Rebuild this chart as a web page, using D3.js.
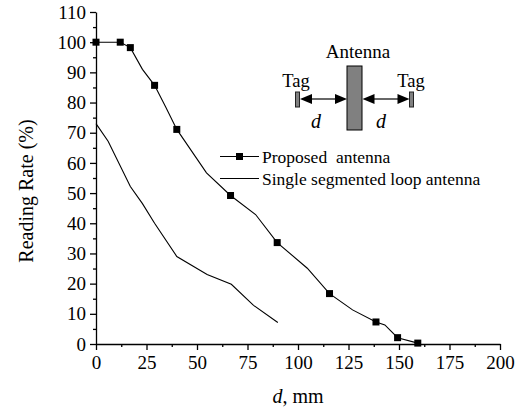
<!DOCTYPE html>
<html>
<head>
<meta charset="utf-8">
<script src="https://cdn.jsdelivr.net/npm/d3@7"></script>
<style>
  body { margin: 0; background: #fff; }
  svg { display: block; font-family: "Liberation Serif", "Times New Roman", serif; }
  .axis path, .axis line { stroke: #000; stroke-width: 1.3; }
</style>
</head>
<body>
<svg id="chart" width="528" height="412"></svg>
<script>
// proposed antenna: polyline (with bends) and the measured points (square markers)
var proposedLineX = [0, 12, 17, 23, 29, 34.5, 40, 54.7, 66.6, 79, 89.7, 104.6, 115.6, 127, 138.6, 143, 149.3, 159.3];
var proposedLineY = [100, 100, 98.2, 91, 85.7, 78.5, 71.1, 56.7, 49.2, 42.9, 33.6, 25.1, 16.7, 11.3, 7.3, 6.3, 2.1, 0.3];
var proposedMarkX = [0, 12, 17, 29, 40, 66.6, 89.7, 115.6, 138.6, 149.3, 159.3];
var proposedMarkY = [100, 100, 98.2, 85.7, 71.1, 49.2, 33.6, 16.7, 7.3, 2.1, 0.3];
// single segmented loop antenna
var loopX = [0, 6, 17, 23, 29, 40, 55, 67, 78, 90];
var loopY = [73, 67.2, 52.2, 46.5, 40, 29, 23, 19.8, 12.8, 7.1];

var xTicks = [0, 25, 50, 75, 100, 125, 150, 175, 200];
var xMinor = [12.5, 37.5, 62.5, 87.5, 112.5, 137.5, 162.5, 187.5];
var yTicks = [0, 10, 20, 30, 40, 50, 60, 70, 80, 90, 100, 110];
var yMinor = [5, 15, 25, 35, 45, 55, 65, 75, 85, 95, 105];
var seriesNames = ['Proposed  antenna', 'Single segmented loop antenna'];

var serif = 'Liberation Serif, serif';
var svg = d3.select('#chart');
var x = d3.scaleLinear().domain([0, 200]).range([96, 500]);
var y = d3.scaleLinear().domain([0, 110]).range([344, 12]);

function styleAxis(g) {
    g.attr('font-family', serif).attr('font-size', 19);
    g.selectAll('text').attr('fill', '#000');
}

// axes: minor ticks first, then major
svg.append('g').attr('class', 'axis').attr('transform', 'translate(0,344)')
    .call(d3.axisBottom(x).tickValues(xMinor).tickSize(3).tickSizeOuter(0).tickFormat(''))
    .select('.domain').remove();
svg.append('g').attr('class', 'axis').attr('transform', 'translate(96,0)')
    .call(d3.axisLeft(y).tickValues(yMinor).tickSize(3).tickSizeOuter(0).tickFormat(''))
    .select('.domain').remove();
svg.append('g').attr('class', 'axis').attr('transform', 'translate(0,344)')
    .call(d3.axisBottom(x).tickValues(xTicks).tickSize(6).tickSizeOuter(0).tickPadding(6))
    .call(styleAxis);
svg.append('g').attr('class', 'axis').attr('transform', 'translate(96,0)')
    .call(d3.axisLeft(y).tickValues(yTicks).tickSize(6).tickSizeOuter(0).tickPadding(4))
    .call(styleAxis);

// axis titles
svg.append('text')
    .attr('transform', 'translate(32.5,191) rotate(-90)')
    .attr('text-anchor', 'middle')
    .style('font-size', '20px')
    .text('Reading Rate (%)');
var xt = svg.append('text')
    .attr('x', 298).attr('y', 403)
    .attr('text-anchor', 'middle')
    .style('font-size', '20px');
xt.append('tspan').style('font-style', 'italic').text('d');
xt.append('tspan').text(', mm');

// lines
var line = d3.line()
    .x(function(d) { return x(d[0]); })
    .y(function(d) { return y(d[1]); });
var proposed = d3.zip(proposedLineX, proposedLineY);
var loop = d3.zip(loopX, loopY);
svg.append('path').datum(proposed).attr('d', line)
    .attr('fill', 'none').attr('stroke', '#000').attr('stroke-width', 1.1);
svg.append('path').datum(loop).attr('d', line)
    .attr('fill', 'none').attr('stroke', '#000').attr('stroke-width', 1.1);

var ms = 7;
svg.selectAll('rect.mark')
    .data(d3.zip(proposedMarkX, proposedMarkY))
    .enter().append('rect')
    .attr('class', 'mark')
    .attr('x', function(d) { return x(d[0]) - ms / 2; })
    .attr('y', function(d) { return y(d[1]) - ms / 2; })
    .attr('width', ms).attr('height', ms)
    .attr('fill', '#000');

// legend
var legend = svg.append('g').attr('transform', 'translate(220,156.5)');
seriesNames.forEach(function(name, i) {
    var g = legend.append('g').attr('transform', 'translate(0,' + (i * 22) + ')');
    g.append('line').attr('x1', 0).attr('x2', 39).attr('y1', 0).attr('y2', 0)
        .attr('stroke', '#000').attr('stroke-width', 1.1);
    if (i === 0) {
        g.append('rect').attr('x', 19.5 - ms / 2).attr('y', -ms / 2)
            .attr('width', ms).attr('height', ms).attr('fill', '#000');
    }
    g.append('text').attr('x', 42).attr('y', 6)
        .style('font-size', '17.5px')
        .style('white-space', 'pre')
        .text(name);
});

// inset sketch: tag <-d-> antenna <-d-> tag
var inset = svg.append('g');
inset.append('rect').attr('x', 347).attr('y', 66).attr('width', 15).attr('height', 64)
    .attr('fill', '#808080').attr('stroke', '#000').attr('stroke-width', 1);
inset.append('rect').attr('x', 295.5).attr('y', 92).attr('width', 4).attr('height', 15)
    .attr('fill', '#808080').attr('stroke', '#222').attr('stroke-width', 1);
inset.append('rect').attr('x', 409.5).attr('y', 92).attr('width', 4).attr('height', 15)
    .attr('fill', '#808080').attr('stroke', '#222').attr('stroke-width', 1);
[[300, 347], [362.5, 409.5]].forEach(function(a) {
    inset.append('line').attr('x1', a[0] + 8).attr('x2', a[1] - 8).attr('y1', 99).attr('y2', 99)
        .attr('stroke', '#000').attr('stroke-width', 1.2);
    inset.append('path')
        .attr('d', 'M' + a[0] + ',99L' + (a[0] + 12) + ',94L' + (a[0] + 12) + ',104Z')
        .attr('fill', '#000');
    inset.append('path')
        .attr('d', 'M' + a[1] + ',99L' + (a[1] - 12) + ',94L' + (a[1] - 12) + ',104Z')
        .attr('fill', '#000');
});
inset.append('text').attr('x', 358).attr('y', 58).attr('text-anchor', 'middle')
    .style('font-size', '19px').text('Antenna');
inset.append('text').attr('x', 296).attr('y', 87).attr('text-anchor', 'middle')
    .style('font-size', '18.5px').text('Tag');
inset.append('text').attr('x', 411).attr('y', 87).attr('text-anchor', 'middle')
    .style('font-size', '18.5px').text('Tag');
inset.append('text').attr('x', 316).attr('y', 128).attr('text-anchor', 'middle')
    .style('font-size', '20px').style('font-style', 'italic').text('d');
inset.append('text').attr('x', 381).attr('y', 128).attr('text-anchor', 'middle')
    .style('font-size', '20px').style('font-style', 'italic').text('d');
</script>
</body>
</html>
